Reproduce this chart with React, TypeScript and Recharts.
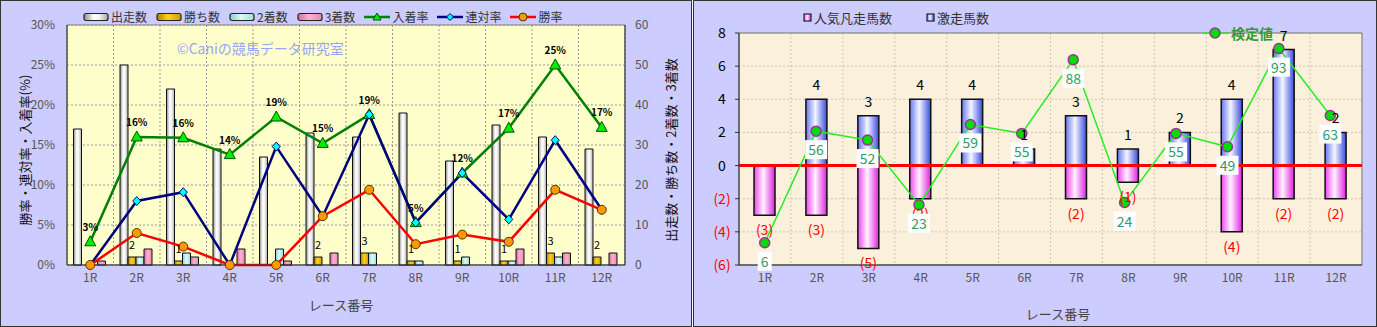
import React from 'react';
import {
  ComposedChart,
  Bar,
  Line,
  XAxis,
  YAxis,
  CartesianGrid,
  LabelList,
  ReferenceLine,
  ReferenceArea,
} from 'recharts';

const FONT = '"Noto Sans CJK JP", "Noto Sans", sans-serif';

const races = ['1R', '2R', '3R', '4R', '5R', '6R', '7R', '8R', '9R', '10R', '11R', '12R'];

// left chart: head counts
const runners = [34, 50, 44, 29, 27, 33, 32, 38, 26, 35, 32, 29];
const wins = [0, 2, 1, 0, 0, 2, 3, 1, 1, 1, 3, 2];
const seconds = [0, 2, 3, 0, 4, 0, 3, 1, 2, 1, 2, 0];
const thirds = [1, 4, 2, 4, 1, 3, 0, 0, 0, 4, 3, 3];

// left chart: rates (%)
const placeRate = [2.9, 16, 15.9, 13.8, 18.5, 15.2, 18.8, 5.3, 11.5, 17.1, 25, 17.2];
const quinellaRate = [0, 8, 9.1, 0, 14.8, 6.1, 18.8, 5.3, 11.5, 5.7, 15.6, 6.9];
const winRate = [0, 4, 2.3, 0, 0, 6.1, 9.4, 2.6, 3.8, 2.9, 9.4, 6.9];

const rateTicks = [0, 5, 10, 15, 20, 25, 30];
const countTicks = [0, 10, 20, 30, 40, 50, 60];

// right chart
const popularFails = [-3, -3, -5, -2, 0, 0, -2, -1, 0, -4, -2, -2];
const longshots = [0, 4, 3, 4, 4, 1, 3, 1, 2, 4, 7, 2];
const testValues = [6, 56, 52, 23, 59, 55, 88, 24, 55, 49, 93, 63];
const diffTicks = [-6, -4, -2, 0, 2, 4, 6, 8];

const leftData = races.map((race, i) => ({
  race,
  runners: runners[i],
  wins: wins[i],
  seconds: seconds[i],
  thirds: thirds[i],
  place: placeRate[i],
  quinella: quinellaRate[i],
  win: winRate[i],
}));

const rightData = races.map((race, i) => ({
  race,
  fails: popularFails[i],
  longshots: longshots[i],
  kentei: testValues[i],
}));

// grid lines between categories, like excel
const bounds = ({ offset }: any) =>
  Array.from({ length: races.length + 1 }, (_, i) => offset.left + (offset.width * i) / races.length);

const box = (p: any) => {
  const v = p.viewBox && p.viewBox.width !== undefined ? p.viewBox : p;
  return { x: v.x, y: v.y, width: v.width || 0, height: v.height || 0 };
};

const TriangleDot = (p: any) => {
  const { cx, cy, index } = p;
  if (cx == null || cy == null) return <g key={index} />;
  return (
    <polygon
      key={index}
      points={`${cx},${cy - 6} ${cx - 5.5},${cy + 4} ${cx + 5.5},${cy + 4}`}
      fill="#00ee00"
      stroke="#005500"
      strokeWidth={1}
    />
  );
};

const DiamondDot = (p: any) => {
  const { cx, cy, index } = p;
  if (cx == null || cy == null) return <g key={index} />;
  return (
    <polygon
      key={index}
      points={`${cx},${cy - 4.5} ${cx + 4},${cy} ${cx},${cy + 4.5} ${cx - 4},${cy}`}
      fill="#00ffff"
      stroke="#000080"
      strokeWidth={1}
    />
  );
};

const OrangeDot = (p: any) => {
  const { cx, cy, index } = p;
  if (cx == null || cy == null) return <g key={index} />;
  return <circle key={index} cx={cx} cy={cy} r={4.5} fill="#ff9900" stroke="#553300" strokeWidth={1} />;
};

const GreenDot = (p: any) => {
  const { cx, cy, index } = p;
  if (cx == null || cy == null) return <g key={index} />;
  return <circle key={index} cx={cx} cy={cy} r={5} fill="#00dd00" stroke="#993399" strokeWidth={1.5} />;
};

const WinLabel = (p: any) => {
  if (!p.value) return null;
  const b = box(p);
  const top = Math.min(b.y, b.y + b.height);
  return (
    <text x={b.x + b.width / 2} y={top - 8} fontSize={11} fill="#000" textAnchor="middle" fontFamily={FONT}>
      {p.value}
    </text>
  );
};

const LongLabel = (p: any) => {
  if (!p.value) return null;
  const b = box(p);
  const top = Math.min(b.y, b.y + b.height);
  return (
    <text x={b.x + b.width / 2} y={top - 9} fontSize={14} fill="#000" textAnchor="middle" fontFamily={FONT}>
      {p.value}
    </text>
  );
};

const FailLabel = (p: any) => {
  if (!p.value) return null;
  const b = box(p);
  const bottom = Math.max(b.y, b.y + b.height);
  return (
    <text x={b.x + b.width / 2} y={bottom + 20} fontSize={14} fill="#ff0000" textAnchor="middle" fontFamily={FONT}>
      {`(${-p.value})`}
    </text>
  );
};

const KenteiLabel = (p: any) => {
  const b = box(p);
  const w = String(p.value).length * 8 + 6;
  return (
    <g>
      <rect x={b.x - w / 2} y={b.y + 9} width={w} height={19} fill="#ffffff" />
      <text x={b.x} y={b.y + 24} fontSize={14} fill="#339966" textAnchor="middle" fontFamily={FONT}>
        {p.value}
      </text>
    </g>
  );
};

const SignTick = (p: any) => {
  const v = p.payload.value;
  return (
    <text x={p.x - 9} y={p.y + 5} fontSize={14} textAnchor="middle" fill={v < 0 ? '#ff0000' : '#000'} fontFamily={FONT}>
      {v < 0 ? `(${-v})` : v}
    </text>
  );
};

const vTitle = (text: string, x: number, y: number) => (
  <div
    style={{
      position: 'absolute',
      left: x,
      top: y,
      transform: 'translate(-50%, -50%) rotate(-90deg)',
      whiteSpace: 'nowrap',
      fontSize: 13,
      color: '#111',
    }}
  >
    {text}
  </div>
);

const BarSwatch = ({ grad }: { grad: string }) => (
  <svg width={26} height={10}>
    <rect x={1} y={1.5} width={24} height={7} rx={2} fill={grad} stroke="#222" strokeWidth={1.2} />
  </svg>
);

const LineSwatch = ({ color, marker }: { color: string; marker: React.ReactNode }) => (
  <svg width={26} height={12}>
    <line x1={0} y1={6} x2={26} y2={6} stroke={color} strokeWidth={2.5} />
    {marker}
  </svg>
);

function LeftPanel() {
  const legend = [
    { name: '出走数', sw: <BarSwatch grad="url(#lgRun)" /> },
    { name: '勝ち数', sw: <BarSwatch grad="url(#lgWin)" /> },
    { name: '2着数', sw: <BarSwatch grad="url(#lgSec)" /> },
    { name: '3着数', sw: <BarSwatch grad="url(#lgThi)" /> },
    {
      name: '入着率',
      sw: <LineSwatch color="#008000" marker={<polygon points="13,2 9,9 17,9" fill="#00ee00" stroke="#005500" />} />,
    },
    {
      name: '連対率',
      sw: <LineSwatch color="#000080" marker={<polygon points="13,2.5 16.5,6 13,9.5 9.5,6" fill="#00ffff" stroke="#000080" />} />,
    },
    {
      name: '勝率',
      sw: <LineSwatch color="#ff0000" marker={<circle cx={13} cy={6} r={4} fill="#ff9900" stroke="#553300" />} />,
    },
  ];
  return (
    <div
      style={{
        position: 'absolute',
        left: 0,
        top: 0,
        width: 692,
        height: 327,
        background: '#ccccff',
        boxShadow: 'inset 0 0 0 1px #333',
      }}
    >
      <svg width={0} height={0} style={{ position: 'absolute' }}>
        <defs>
          <linearGradient id="lgRun" x1="0" x2="1" y1="0" y2="0">
            <stop offset="0%" stopColor="#8c8c8c" />
            <stop offset="40%" stopColor="#ffffff" />
            <stop offset="65%" stopColor="#f2f2f2" />
            <stop offset="100%" stopColor="#a8a8a8" />
          </linearGradient>
          <linearGradient id="lgWin" x1="0" x2="1" y1="0" y2="0">
            <stop offset="0%" stopColor="#b08000" />
            <stop offset="45%" stopColor="#ffd21a" />
            <stop offset="100%" stopColor="#d09a00" />
          </linearGradient>
          <linearGradient id="lgSec" x1="0" x2="1" y1="0" y2="0">
            <stop offset="0%" stopColor="#88cccc" />
            <stop offset="45%" stopColor="#dcfafa" />
            <stop offset="100%" stopColor="#a0dede" />
          </linearGradient>
          <linearGradient id="lgThi" x1="0" x2="1" y1="0" y2="0">
            <stop offset="0%" stopColor="#d06c9c" />
            <stop offset="45%" stopColor="#ffb0d4" />
            <stop offset="100%" stopColor="#e48ab4" />
          </linearGradient>
        </defs>
      </svg>
      <ComposedChart
        width={692}
        height={327}
        data={leftData}
        margin={{ top: 25, right: 17, bottom: 32, left: 17 }}
        barGap={0}
        barCategoryGap="14%"
      >
        <CartesianGrid
          yAxisId="rate"
          fill="#ffffcc"
          fillOpacity={1}
          stroke="#999"
          strokeDasharray="2 2"
          verticalCoordinatesGenerator={bounds}
        />
        <XAxis
          dataKey="race"
          interval={0}
          tickLine={false}
          axisLine={{ stroke: '#333' }}
          tick={{ fontSize: 12, fill: '#555' }}
          height={30}
        />
        <YAxis
          yAxisId="rate"
          domain={[0, 30]}
          ticks={rateTicks}
          tickFormatter={(v: number) => `${v}%`}
          width={50}
          tickLine={false}
          tickSize={4}
          tickMargin={8}
          axisLine={{ stroke: '#333' }}
          tick={{ fontSize: 12, fill: '#555' }}
        />
        <YAxis
          yAxisId="count"
          orientation="right"
          domain={[0, 60]}
          ticks={countTicks}
          width={50}
          tickLine={false}
          tickSize={4}
          tickMargin={6}
          axisLine={{ stroke: '#333' }}
          tick={{ fontSize: 12, fill: '#555' }}
        />
        <ReferenceArea yAxisId="rate" y1={0} y2={30} fill="none" stroke="#888" />
        <Bar yAxisId="count" dataKey="runners" fill="url(#lgRun)" stroke="#111" isAnimationActive={false} />
        <Bar yAxisId="count" dataKey="wins" fill="url(#lgWin)" stroke="#111" isAnimationActive={false}>
          <LabelList dataKey="wins" content={WinLabel} />
        </Bar>
        <Bar yAxisId="count" dataKey="seconds" fill="url(#lgSec)" stroke="#111" isAnimationActive={false} />
        <Bar yAxisId="count" dataKey="thirds" fill="url(#lgThi)" stroke="#111" isAnimationActive={false} />
        <Line
          yAxisId="rate"
          dataKey="place"
          stroke="#008000"
          strokeWidth={2.5}
          dot={TriangleDot}
          activeDot={false}
          isAnimationActive={false}
        >
          <LabelList
            dataKey="place"
            position="top"
            offset={11}
            formatter={(v: any) => `${Math.round(Number(v))}%`}
            fontSize={10}
            fontWeight="bold"
            fill="#000"
          />
        </Line>
        <Line
          yAxisId="rate"
          dataKey="quinella"
          stroke="#000080"
          strokeWidth={2.5}
          dot={DiamondDot}
          activeDot={false}
          isAnimationActive={false}
        />
        <Line
          yAxisId="rate"
          dataKey="win"
          stroke="#ff0000"
          strokeWidth={2.5}
          dot={OrangeDot}
          activeDot={false}
          isAnimationActive={false}
        />
      </ComposedChart>
      <div
        style={{
          position: 'absolute',
          left: 83,
          top: 8,
          display: 'flex',
          gap: 9,
          alignItems: 'center',
          fontSize: 12,
          color: '#333',
          whiteSpace: 'nowrap',
        }}
      >
        {legend.map((l) => (
          <div key={l.name} style={{ display: 'flex', alignItems: 'center', gap: 2 }}>
            {l.sw}
            <span>{l.name}</span>
          </div>
        ))}
      </div>
      <div style={{ position: 'absolute', left: 177, top: 38, fontSize: 14, color: '#9aa4f5', whiteSpace: 'nowrap' }}>
        ©Caniの競馬データ研究室
      </div>
      {vTitle('勝率・連対率・入着率(%)', 24, 150)}
      {vTitle('出走数・勝ち数・2着数・3着数', 670, 150)}
      <div
        style={{
          position: 'absolute',
          left: 341,
          top: 304,
          transform: 'translate(-50%, -50%)',
          fontSize: 13,
          color: '#444',
          whiteSpace: 'nowrap',
        }}
      >
        レース番号
      </div>
    </div>
  );
}

function RightPanel() {
  return (
    <div
      style={{
        position: 'absolute',
        left: 693,
        top: 0,
        width: 684,
        height: 327,
        background: '#ccccff',
        boxShadow: 'inset 0 0 0 1px #333',
      }}
    >
      <svg width={0} height={0} style={{ position: 'absolute' }}>
        <defs>
          <linearGradient id="rgBlue" x1="0" x2="1" y1="0" y2="0">
            <stop offset="0%" stopColor="#6676f0" />
            <stop offset="45%" stopColor="#f4f6ff" />
            <stop offset="100%" stopColor="#3a4ae0" />
          </linearGradient>
          <linearGradient id="rgPink" x1="0" x2="1" y1="0" y2="0">
            <stop offset="0%" stopColor="#f044f0" />
            <stop offset="45%" stopColor="#fff2ff" />
            <stop offset="100%" stopColor="#e020e0" />
          </linearGradient>
        </defs>
      </svg>
      <ComposedChart
        width={684}
        height={327}
        data={rightData}
        margin={{ top: 33, right: 15, bottom: 32, left: 5 }}
        stackOffset="sign"
        barSize={21}
      >
        <CartesianGrid
          yAxisId="count"
          fill="#faf0dc"
          fillOpacity={1}
          stroke="#cdc4b2"
          strokeDasharray="2 2"
          verticalCoordinatesGenerator={bounds}
        />
        <XAxis
          dataKey="race"
          interval={0}
          tickLine={false}
          axisLine={{ stroke: '#333' }}
          tick={{ fontSize: 12, fill: '#555' }}
          height={30}
        />
        {/* secondary category axis of the test-value line, slightly narrower as in the original */}
        <XAxis xAxisId="line" dataKey="race" hide padding={{ left: 0, right: 6 }} />
        <YAxis
          yAxisId="count"
          domain={[-6, 8]}
          ticks={diffTicks}
          width={41}
          tickSize={4}
          tickMargin={4}
          tickLine={{ stroke: '#333' }}
          axisLine={{ stroke: '#333' }}
          tick={SignTick}
        />
        <YAxis yAxisId="kentei" orientation="right" domain={[-4, 100]} hide />
        <ReferenceArea yAxisId="count" y1={-6} y2={8} fill="none" stroke="#777" />
        <Bar
          yAxisId="count"
          dataKey="fails"
          stackId="s"
          fill="url(#rgPink)"
          stroke="#111"
          strokeWidth={1.5}
          isAnimationActive={false}
        >
          <LabelList dataKey="fails" content={FailLabel} />
        </Bar>
        <Bar
          yAxisId="count"
          dataKey="longshots"
          stackId="s"
          fill="url(#rgBlue)"
          stroke="#111"
          strokeWidth={1.5}
          isAnimationActive={false}
        >
          <LabelList dataKey="longshots" content={LongLabel} />
        </Bar>
        <ReferenceLine yAxisId="count" y={0} stroke="#ff0000" strokeWidth={3} />
        <Line
          xAxisId="line"
          yAxisId="kentei"
          dataKey="kentei"
          stroke="#22ee22"
          strokeWidth={1.5}
          dot={GreenDot}
          activeDot={false}
          isAnimationActive={false}
        >
          <LabelList dataKey="kentei" content={KenteiLabel} />
        </Line>
      </ComposedChart>
      <div
        style={{
          position: 'absolute',
          left: 110,
          top: 8,
          display: 'flex',
          alignItems: 'center',
          fontSize: 13,
          color: '#333',
          whiteSpace: 'nowrap',
        }}
      >
        <svg width={9} height={9}>
          <rect x={1} y={1} width={7} height={7} fill="url(#rgPink)" stroke="#222" strokeWidth={1.2} />
        </svg>
        <span style={{ marginLeft: 2 }}>人気凡走馬数</span>
        <svg width={9} height={9} style={{ marginLeft: 34 }}>
          <rect x={1} y={1} width={7} height={7} fill="url(#rgBlue)" stroke="#222" strokeWidth={1.2} />
        </svg>
        <span style={{ marginLeft: 2 }}>激走馬数</span>
      </div>
      <div
        style={{
          position: 'absolute',
          left: 509,
          top: 23,
          display: 'flex',
          alignItems: 'center',
          fontSize: 14,
          color: '#339933',
          fontWeight: 'bold',
          whiteSpace: 'nowrap',
        }}
      >
        <svg width={27} height={14}>
          <line x1={0} y1={7} x2={27} y2={7} stroke="#22ee22" strokeWidth={1.5} />
          <circle cx={13} cy={7} r={5} fill="#00dd00" stroke="#993399" strokeWidth={1.5} />
        </svg>
        <span style={{ marginLeft: 2 }}>検定値</span>
      </div>
      <div
        style={{
          position: 'absolute',
          left: 365,
          top: 313,
          transform: 'translate(-50%, -50%)',
          fontSize: 13,
          color: '#444',
          whiteSpace: 'nowrap',
        }}
      >
        レース番号
      </div>
    </div>
  );
}

export default function App() {
  return (
    <div
      style={{
        position: 'absolute',
        left: 0,
        top: 0,
        width: 1377,
        height: 327,
        background: '#fff',
        fontFamily: FONT,
      }}
    >
      <LeftPanel />
      <RightPanel />
    </div>
  );
}
